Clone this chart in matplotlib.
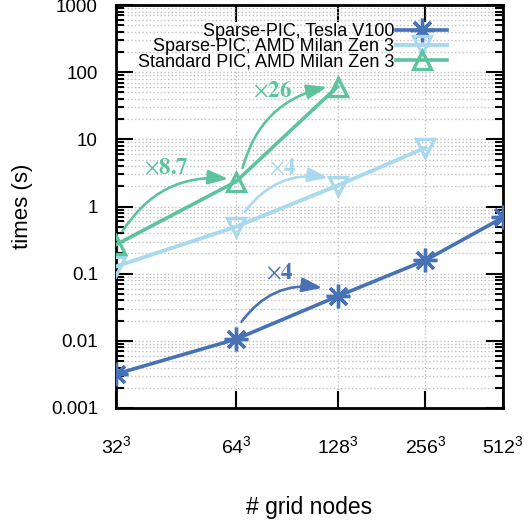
import numpy as np
import matplotlib.pyplot as plt
from matplotlib.ticker import FixedLocator, NullLocator, LogLocator, FixedFormatter, NullFormatter

# Data
# ----
grid_labels = [r'$32^3$', r'$64^3$', r'$128^3$', r'$256^3$', r'$512^3$']
grid_log2 = [5, 6, 7, 8, 9]   # log2 of the grid size per direction

gpu_times = [0.0032, 0.0106, 0.046, 0.158, 0.686]   # Sparse-PIC, Tesla V100
cpu_times = [0.128, 0.50, 2.05, 7.5]                # Sparse-PIC, AMD Milan Zen 3
std_times = [0.27, 2.35, 61.0]                      # Standard PIC, AMD Milan Zen 3

c_gpu = '#4773b6'
c_cpu = '#a9d9ec'
c_std = '#5cc49d'

plt.rcParams['font.family'] = ['Liberation Sans', 'DejaVu Sans']
plt.rcParams['mathtext.fontset'] = 'custom'
plt.rcParams['mathtext.rm'] = 'Liberation Sans'
plt.rcParams['font.size'] = 13.5

fig = plt.figure(figsize=(5.28, 5.22), dpi=100)
ax = fig.add_axes([116 / 528, 1 - 408 / 522, 387 / 528, 403 / 522])

ax.plot(grid_log2, gpu_times, color=c_gpu, lw=2.6, marker=(8, 2, 0),
        ms=17, mew=2.4, label='Sparse-PIC, Tesla V100', zorder=4)
ax.plot(grid_log2[:4], cpu_times, color=c_cpu, lw=2.8, marker='v',
        ms=13, mew=2.4, mfc='none', label='Sparse-PIC, AMD Milan Zen 3', zorder=3)
ax.plot(grid_log2[:3], std_times, color=c_std, lw=2.6, marker='^',
        ms=13, mew=2.4, mfc='none', label='Standard PIC, AMD Milan Zen 3', zorder=3)

ax.set_xscale('log')
ax.set_yscale('log')
ax.set_xlim(5, 9)
ax.set_ylim(1e-3, 1e3)

ax.xaxis.set_major_locator(FixedLocator(grid_log2))
ax.xaxis.set_major_formatter(FixedFormatter(grid_labels))
ax.xaxis.set_minor_locator(NullLocator())
ax.xaxis.set_minor_formatter(NullFormatter())

yt = [1e-3, 1e-2, 1e-1, 1, 10, 100, 1000]
ax.yaxis.set_major_locator(FixedLocator(yt))
ax.yaxis.set_major_formatter(FixedFormatter(['0.001', '0.01', '0.1', '1', '10', '100', '1000']))
ax.yaxis.set_minor_locator(LogLocator(base=10, subs=np.arange(2, 10), numticks=20))
ax.yaxis.set_minor_formatter(NullFormatter())

ax.tick_params(which='both', direction='in', top=True, right=True, width=1.5)
ax.tick_params(which='major', length=12)
ax.tick_params(which='minor', length=6)
ax.tick_params(axis='x', pad=20, labelsize=14)
ax.tick_params(axis='y', pad=13, labelsize=13.5)

ax.grid(True, which='major', color='#c0c0c0', ls=':', lw=1)
ax.yaxis.grid(True, which='minor', color='#c0c0c0', ls=':', lw=1)
for s in ax.spines.values():
    s.set_linewidth(2)

ax.set_xlabel('# grid nodes', fontsize=16.5, labelpad=27)
ax.set_ylabel('times (s)', fontsize=16, labelpad=13)

# Speed-up arrows
# ---------------
arrows = [
    # text, text pos, arrow start, arrow end, colour
    (r'$\times\mathbf{8.7}$', (5.40, 3.75), (5.05, 0.43), (5.93, 2.58), c_std),
    (r'$\times\mathbf{26}$', (6.34, 52.0), (6.06, 3.75), (6.89, 60.0), c_std),
    (r'$\times\mathbf{4}$', (6.44, 3.75), (6.08, 0.83), (6.90, 2.67), c_cpu),
    (r'$\times\mathbf{4}$', (6.41, 0.103), (6.05, 0.0192), (6.84, 0.0615), c_gpu),
]
for txt, tpos, p0, p1, col in arrows:
    ax.annotate('', xy=p1, xytext=p0,
                arrowprops=dict(arrowstyle='-|>,head_length=0.9,head_width=0.32',
                                color=col, lw=1.9,
                                connectionstyle='arc3,rad=-0.3',
                                shrinkA=0, shrinkB=0), zorder=5)
    ax.text(tpos[0], tpos[1], txt, color=col, fontsize=16.5,
            ha='center', va='center', math_fontfamily='stix')

leg = ax.legend(loc='upper right', bbox_to_anchor=(0.855, 0.955),
                frameon=False, markerfirst=False, handlelength=2.8,
                handletextpad=0.12, labelspacing=-0.1, borderpad=0,
                borderaxespad=0, fontsize=13)
for t in leg.get_texts():
    t.set_ha('right')

fig.savefig('out.png', dpi=100)
